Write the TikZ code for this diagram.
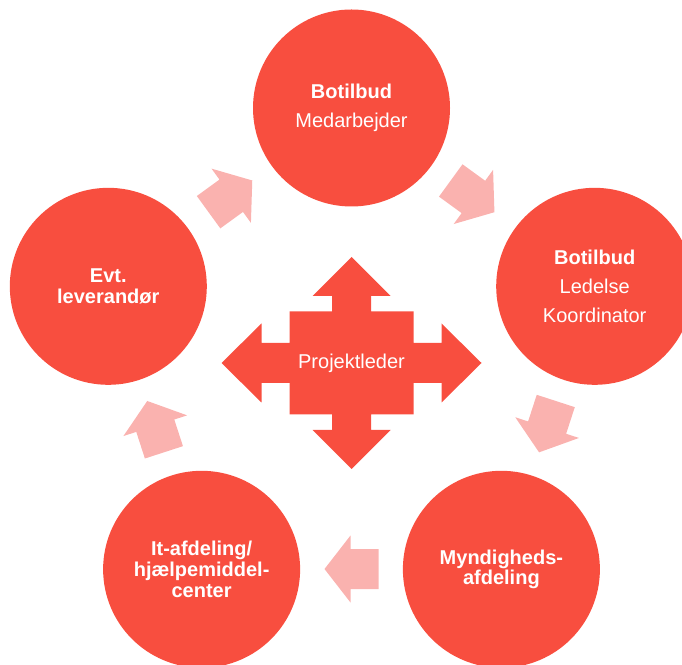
\documentclass[tikz,border=0pt]{standalone}
\usepackage{fontspec}
\setmainfont{Liberation Sans}
\usetikzlibrary{positioning}
\definecolor{stagered}{HTML}{F84E3F}
\definecolor{arrowpink}{HTML}{FAB2AF}
\tikzset{
  stage/.style={circle, fill=stagered, minimum size=197pt, inner sep=0pt,
    text=white, align=center},
  tight/.style={font=\bfseries\fontsize{20}{20.7}\selectfont},
  loose/.style={font=\fontsize{20}{28.7}\selectfont},
  cyclearrow/.style={fill=arrowpink},
}

\begin{document}
\begin{tikzpicture}[x=1pt,y=1pt]

  \useasboundingbox (0,0) rectangle (682,664);
  \coordinate (ctr) at (351.5,301);

  %% centre cross
  \fill[stagered, shift={(ctr)}]
  (130,0) -- (90,39.5) -- (90,20) -- (62,20) -- (62,51.5) -- (19.5,51.5)
  -- (19.5,67) -- (39,67) -- (0,106) -- (-39,67) -- (-19.5,67)
  -- (-19.5,51.5) -- (-62,51.5) -- (-62,20) -- (-90,20) -- (-90,39.5)
  -- (-130,0) -- (-90,-39.5) -- (-90,-20) -- (-62,-20) -- (-62,-51.5)
  -- (-19.5,-51.5) -- (-19.5,-67) -- (-39,-67) -- (0,-106) -- (39,-67)
  -- (19.5,-67) -- (19.5,-51.5) -- (62,-51.5) -- (62,-20) -- (90,-20)
  -- (90,-39.5) -- cycle;
  \node[text=white, font=\fontsize{20}{24}\selectfont] (lead) at (ctr) {Projektleder};

  %% circles
  \node[stage, loose] (staff) at ([shift={(90:255)}]ctr)
  {\textbf{Botilbud}\\Medarbejder};
  \node[stage, loose] (mgmt) at ([shift={(17.5:255)}]ctr)
  {\textbf{Botilbud}\\Ledelse\\Koordinator};
  \node[stage, tight] (auth) at ([shift={(-54:255)}]ctr)
  {Myndigheds-\\afdeling};
  \node[stage, tight] (itdept) at ([shift={(-126:255)}]ctr)
  {It-afdeling/\\hjælpemiddel-\\center};
  \node[stage, tight] (supplier) at ([shift={(162.5:255)}]ctr)
  {Evt.\\leverandør};

  %% block arrows, clockwise
  \foreach \a in {126,54,-18,-90,-162}
  \fill[cyclearrow, shift={(ctr)}, rotate=\a]
  (186,27) -- (226,27) -- (226,-1) -- (239.5,-1) -- (206,-27)
  -- (172.5,-1) -- (186,-1) -- cycle;

\end{tikzpicture}
\end{document}
